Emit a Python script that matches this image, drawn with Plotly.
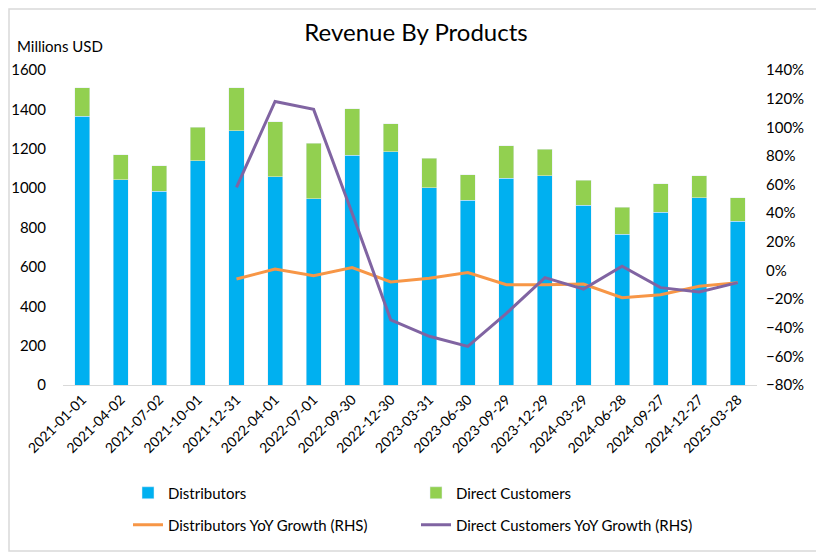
import plotly.graph_objects as go

# quarter end dates
dates = ["2021-01-01", "2021-04-02", "2021-07-02", "2021-10-01", "2021-12-31",
         "2022-04-01", "2022-07-01", "2022-09-30", "2022-12-30", "2023-03-31",
         "2023-06-30", "2023-09-29", "2023-12-29", "2024-03-29", "2024-06-28",
         "2024-09-27", "2024-12-27", "2025-03-28"]

# revenue, millions USD
distributors = [1366, 1043, 984, 1140, 1292, 1058, 946, 1167, 1184, 1001,
                938, 1051, 1062, 914, 767, 877, 951, 831]
direct_customers = [143, 127, 130, 169, 217, 278, 283, 237, 143, 150,
                    130, 165, 135, 127, 137, 146, 112, 119]

# YoY growth (RHS), fraction
dist_yoy = [None, None, None, None, -0.06, 0.01, -0.036, 0.02, -0.08, -0.055,
            -0.015, -0.10, -0.10, -0.095, -0.19, -0.17, -0.11, -0.085]
direct_yoy = [None, None, None, None, 0.58, 1.18, 1.125, 0.40, -0.345, -0.46,
              -0.53, -0.30, -0.05, -0.13, 0.03, -0.12, -0.15, -0.085]

FONT = "Lato, 'Open Sans', sans-serif"
# page body has an 8px margin, so the figure is drawn 8px smaller
W, H = 816, 544
ML, MR, MT, MB = 55, 67, 62, 167

fig = go.Figure()

fig.add_trace(go.Bar(x=dates, y=distributors, name="Distributors",
                     marker_color="#00B0F0", legend="legend"))
fig.add_trace(go.Bar(x=dates, y=direct_customers, name="Direct Customers",
                     marker_color="#92D050", legend="legend"))
fig.add_trace(go.Scatter(x=dates, y=dist_yoy, name="Distributors YoY Growth (RHS)",
                         mode="lines", line=dict(color="#F79646", width=3),
                         yaxis="y2", legend="legend2"))
fig.add_trace(go.Scatter(x=dates, y=direct_yoy, name="Direct Customers YoY Growth (RHS)",
                         mode="lines", line=dict(color="#8064A2", width=3),
                         yaxis="y2", legend="legend2"))

pw = W - ML - MR
ph = H - MT - MB

leg_x = (120 - ML) / pw

fig.update_layout(
    width=W, height=H,
    barmode="stack",
    bargap=0.61,
    plot_bgcolor="white",
    paper_bgcolor="white",
    font=dict(family=FONT, size=15, color="#000000"),
    margin=dict(l=ML, r=MR, t=MT, b=MB, pad=0, autoexpand=False),
    title=dict(text="Revenue By Products", x=0.5, xanchor="center",
               y=1 - 25 / H, yanchor="middle",
               font=dict(family=FONT, size=24, color="#000000")),
    xaxis=dict(type="category", tickangle=-45, showgrid=False, automargin=False,
               showline=True, linecolor="#D9D9D9", linewidth=1,
               ticks="", tickfont=dict(size=14)),
    yaxis=dict(range=[0, 1600], dtick=200, showgrid=False, zeroline=False,
               showline=False, ticks="", ticklabelstandoff=16, automargin=False,
               tickfont=dict(size=15)),
    yaxis2=dict(range=[-0.8, 1.4], dtick=0.2, tickformat=".0%", overlaying="y",
                side="right", showgrid=False, zeroline=False, showline=False,
                ticks="", ticklabelstandoff=8, automargin=False,
                tickfont=dict(size=15)),
    legend=dict(orientation="h", x=leg_x, xanchor="left",
                y=-(485 - MT - ph) / ph, yanchor="middle",
                entrywidth=243, font=dict(size=15), bgcolor="rgba(0,0,0,0)",
                traceorder="normal"),
    legend2=dict(orientation="h", x=leg_x, xanchor="left",
                 y=-(517 - MT - ph) / ph, yanchor="middle",
                 entrywidth=243, font=dict(size=15), bgcolor="rgba(0,0,0,0)",
                 traceorder="normal"),
    annotations=[dict(text="Millions USD", xref="paper", yref="paper",
                      x=-(ML - 7) / pw, y=1 + (MT - 38) / ph,
                      xanchor="left", yanchor="middle", showarrow=False,
                      font=dict(size=15))],
    shapes=[dict(type="rect", xref="paper", yref="paper",
                 x0=-(ML - 1) / pw, x1=1 + (MR - 1) / pw,
                 y0=-(MB - 1) / ph, y1=1 + (MT - 1) / ph,
                 line=dict(color="#D9D9D9", width=1.5), layer="below")],
)

fig.write_html("out.html")
